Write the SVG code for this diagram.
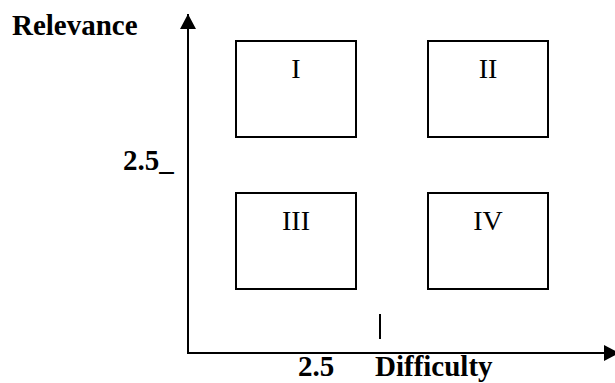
<svg xmlns="http://www.w3.org/2000/svg" width="615" height="383" viewBox="0 0 615 383">
  <style>
    .box { fill: #fff; stroke: #000; stroke-width: 2; }
    .lbl { font-family: "Liberation Serif", "Times New Roman", serif; font-size: 28px; fill: #000; text-anchor: middle; }
    .ax { font-family: "Liberation Serif", "Times New Roman", serif; font-size: 29px; font-weight: bold; fill: #000; }
    .axis { stroke: #000; stroke-width: 2; fill: none; }
  </style>
  <defs>
    <marker id="arr" markerUnits="userSpaceOnUse" markerWidth="16" markerHeight="16" refX="15" refY="8" orient="auto">
      <path d="M0,0 L15,8 L0,16 Z" fill="#000"/>
    </marker>
  </defs>
  <rect width="615" height="383" fill="#fff"/>
  <g id="connectors">
    <line class="axis" x1="188" y1="353" x2="188" y2="14" marker-end="url(#arr)"/>
    <line class="axis" x1="187" y1="353" x2="619" y2="353" marker-end="url(#arr)"/>
    <line class="axis" x1="380" y1="314" x2="380" y2="339"/>
  </g>
  <g id="axis-labels">
    <text class="ax" x="12" y="35">Relevance</text>
    <text class="ax" x="123" y="170">2.5_</text>
    <text class="ax" x="298" y="376">2.5</text>
    <text class="ax" x="375" y="376">Difficulty</text>
  </g>
  <g id="q1">
    <rect class="box" x="236" y="41" width="120" height="96"/>
    <text class="lbl" x="296" y="78">I</text>
  </g>
  <g id="q2">
    <rect class="box" x="428" y="41" width="120" height="96"/>
    <text class="lbl" x="488" y="78">II</text>
  </g>
  <g id="q3">
    <rect class="box" x="236" y="193" width="120" height="96"/>
    <text class="lbl" x="296" y="230">III</text>
  </g>
  <g id="q4">
    <rect class="box" x="428" y="193" width="120" height="96"/>
    <text class="lbl" x="488" y="230">IV</text>
  </g>
</svg>
